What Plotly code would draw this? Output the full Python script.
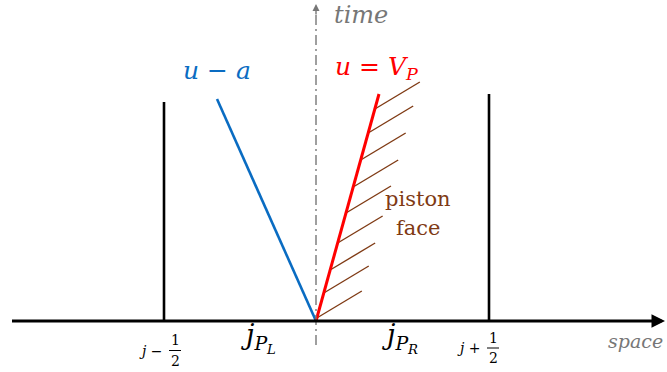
import plotly.graph_objects as go

# Diagram coordinates: origin at the cell interface, x = space, y = time
cell_walls_x = [-152, 173]          # j-1/2 and j+1/2 cell boundaries
cell_walls_top = [219, 227]
char_left_end = (-99, 222)          # u - a characteristic end point
piston_end = (63, 227)              # u = V_P piston path end point
hatch_heights = [3, 28, 51, 78, 108, 134, 161, 188, 212]
hatch_offset = (45, 27)

BLUE = "#0a6cc2"
RED = "#ff0000"
BROWN = "#7f3a14"
GRAY = "#777777"
SERIF = "DejaVu Serif"

fig = go.Figure()

# cell walls
for wx, wt in zip(cell_walls_x, cell_walls_top):
    fig.add_trace(go.Scatter(x=[wx, wx], y=[0, wt], mode="lines",
                             line=dict(color="black", width=2.6), hoverinfo="skip"))

# hatching on the piston face
for h in hatch_heights:
    x0 = h * piston_end[0] / piston_end[1]
    fig.add_trace(go.Scatter(x=[x0, x0 + hatch_offset[0]], y=[h, h + hatch_offset[1]],
                             mode="lines", line=dict(color=BROWN, width=1.4), hoverinfo="skip"))

# u - a characteristic
fig.add_trace(go.Scatter(x=[0, char_left_end[0]], y=[0, char_left_end[1]], mode="lines",
                         line=dict(color=BLUE, width=2.6), hoverinfo="skip"))
# piston path
fig.add_trace(go.Scatter(x=[0, piston_end[0]], y=[0, piston_end[1]], mode="lines",
                         line=dict(color=RED, width=3), hoverinfo="skip"))

# time axis (dash-dot)
fig.add_trace(go.Scatter(x=[0, 0], y=[-24, 310], mode="lines",
                         line=dict(color=GRAY, width=1.4, dash="10px,4px,2px,4px"),
                         hoverinfo="skip"))
fig.add_annotation(x=0, y=317, ax=0, ay=305, xref="x", yref="y", axref="x", ayref="y",
                   showarrow=True, arrowhead=2, arrowsize=1, arrowwidth=1.4,
                   arrowcolor=GRAY, text="")

# space axis
fig.add_trace(go.Scatter(x=[-304, 340], y=[0, 0], mode="lines",
                         line=dict(color="black", width=3), hoverinfo="skip"))
fig.add_annotation(x=349, y=0, ax=336, ay=0, xref="x", yref="y", axref="x", ayref="y",
                   showarrow=True, arrowhead=2, arrowsize=0.9, arrowwidth=3,
                   arrowcolor="black", text="")

def label(x, y, text, size, color, xanchor="center"):
    fig.add_annotation(x=x, y=y, xref="x", yref="y", text=text, showarrow=False,
                       xanchor=xanchor, yanchor="middle",
                       font=dict(family=SERIF, size=size, color=color))

label(45, 306, "<i>time</i>", 24, GRAY)
label(319, -20, "<i>space</i>", 19, GRAY)
label(-99, 251, "<i>u</i> − <i>a</i>", 25, BLUE)
label(61, 253, "<i>u</i> = <i>V</i><sub><i>P</i></sub>", 25, RED)
label(102, 122, "piston", 21, BROWN)
label(102, 93, "face", 21, BROWN)
label(-58, -17, "<i>j</i><sub><i>P</i><sub><i>L</i></sub></sub>", 27, "black")
label(84, -17, "<i>j</i><sub><i>P</i><sub><i>R</i></sub></sub>", 27, "black")

# half-index fractions under the cell walls
def half_index(xc, sign, y_num, y_den):
    label(xc - 10, (y_num + y_den) / 2, "<i>j</i> " + sign, 14, "black", xanchor="right")
    label(xc, y_num, "1", 14, "black")
    label(xc, y_den, "2", 14, "black")
    fig.add_shape(type="line", x0=xc - 6, x1=xc + 6,
                  y0=(y_num + y_den) / 2, y1=(y_num + y_den) / 2,
                  xref="x", yref="y", line=dict(color="black", width=1))

half_index(cell_walls_x[0] + 11, "−", -19, -40)
half_index(cell_walls_x[1] + 4, "+", -17, -37)

fig.update_layout(
    width=667, height=372, margin=dict(l=0, r=0, t=0, b=0),
    paper_bgcolor="white", plot_bgcolor="white", showlegend=False,
    font=dict(family=SERIF),
    xaxis=dict(range=[-316, 351], visible=False, fixedrange=True),
    yaxis=dict(range=[-51, 321], visible=False, fixedrange=True),
)

fig.write_html("out.html")
